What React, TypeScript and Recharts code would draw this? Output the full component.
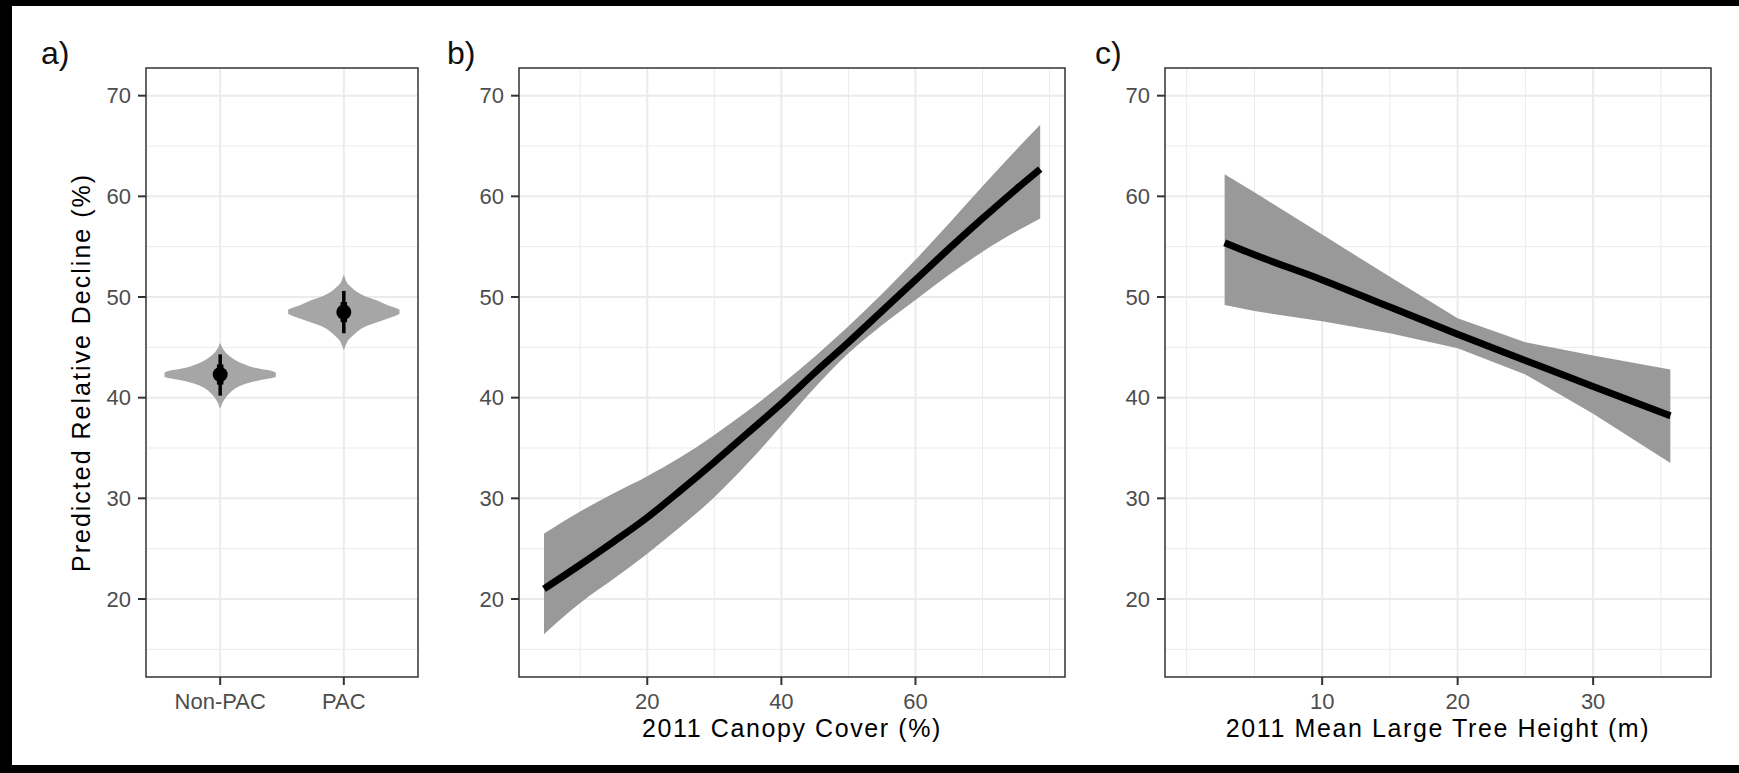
import React from "react";
import {
	Area,
	CartesianGrid,
	ComposedChart,
	ErrorBar,
	Line,
	ReferenceArea,
	Scatter,
	XAxis,
	YAxis,
} from "recharts";

const FONT = '"Liberation Sans", Arial, Helvetica, sans-serif';
const GRID = "#EBEBEB";
const INK = "#333333";
const TICK_TEXT = "#4D4D4D";
const RIBBON = "#999999";
const VIOLIN = "#A6A6A6";

// shared y scale (Predicted Relative Decline, %)
const Y_DOMAIN: [number, number] = [12.25, 72.75];
const Y_TICKS = [20, 30, 40, 50, 60, 70];
const Y_MINOR = [15, 25, 35, 45, 55, 65];

// a) violins: half-width offsets (category units) and outline at each offset
const groups = ["Non-PAC", "PAC"];
const violinDx = [0, 0.015, 0.03, 0.05, 0.08, 0.135, 0.2, 0.27, 0.35, 0.42, 0.45];
const nonPacUpper = [45.4, 45.0, 44.7, 44.4, 44.1, 43.65, 43.3, 43.0, 42.8, 42.65, 42.5];
const nonPacLower = [38.95, 39.4, 39.75, 40.1, 40.5, 41.0, 41.35, 41.6, 41.8, 41.95, 42.05];
const pacUpper = [52.15, 51.7, 51.35, 51.1, 50.75, 50.3, 49.95, 49.65, 49.2, 48.9, 48.75];
const pacLower = [44.75, 45.2, 45.6, 45.9, 46.25, 46.8, 47.2, 47.5, 47.85, 48.15, 48.3];
// point estimates with two interval widths
const groupMeans = [42.3, 48.5];
const outerLow = [40.2, 46.4];
const outerHigh = [44.3, 50.6];
const innerLow = [41.3, 47.5];
const innerHigh = [43.3, 49.5];

// b) canopy cover
const canopyX = [4.6, 10, 15, 20, 25, 30, 35, 40, 45, 50, 55, 60, 65, 70, 75, 78.6];
const canopyFit = [21.0, 23.4, 25.7, 28.1, 30.8, 33.6, 36.5, 39.4, 42.5, 45.5, 48.6, 51.7, 54.8, 57.8, 60.7, 62.7];
const canopyLower = [16.5, 19.6, 22.0, 24.5, 27.2, 30.1, 33.5, 37.2, 41.0, 44.4, 47.2, 49.7, 52.2, 54.5, 56.5, 57.8];
const canopyUpper = [26.5, 28.7, 30.5, 32.2, 34.1, 36.3, 38.7, 41.3, 44.1, 47.1, 50.3, 53.7, 57.3, 61.0, 64.6, 67.1];
const canopyTicks = [20, 40, 60];
const canopyMinor = [10, 30, 50, 70, 80];

// c) mean large tree height
const heightX = [2.8, 5, 10, 15, 20, 25, 30, 35.7];
const heightFit = [55.4, 54.2, 51.7, 49.0, 46.3, 43.7, 41.1, 38.2];
const heightLower = [49.2, 48.6, 47.6, 46.4, 44.9, 42.3, 38.4, 33.5];
const heightUpper = [62.2, 60.4, 56.2, 52.0, 47.9, 45.5, 44.2, 42.8];
const heightTicks = [10, 20, 30];
const heightMinor = [0, 5, 15, 25, 35];

// layout
const PLOT_TOP = 68;
const PLOT_H = 609;
const Y_AXIS_W = 60;
const X_AXIS_H = 50;
const PAD = 4;

function violinRows(center: number, key: string, lower: number[], upper: number[]) {
	const rows: Record<string, unknown>[] = [];
	for (let i = violinDx.length - 1; i > 0; i--) {
		rows.push({ x: center - violinDx[i], [key]: [lower[i], upper[i]] });
	}
	for (let i = 0; i < violinDx.length; i++) {
		rows.push({ x: center + violinDx[i], [key]: [lower[i], upper[i]] });
	}
	return rows;
}

const violinData = [
	...violinRows(1, "nonpac", nonPacLower, nonPacUpper),
	...violinRows(2, "pac", pacLower, pacUpper),
];

const pointData = groupMeans.map((m, i) => ({
	x: i + 1,
	y: m,
	outer: [m - outerLow[i], outerHigh[i] - m],
	inner: [m - innerLow[i], innerHigh[i] - m],
}));

const canopyData = canopyX.map((x, i) => ({
	x,
	fit: canopyFit[i],
	band: [canopyLower[i], canopyUpper[i]],
}));

const heightData = heightX.map((x, i) => ({
	x,
	fit: heightFit[i],
	band: [heightLower[i], heightUpper[i]],
}));

function frame(
	xDomain: [number, number],
	xTicks: number[],
	xMinor: number[],
	fmt?: (v: number) => string,
) {
	const tick = { fill: TICK_TEXT, fontSize: 22 };
	const tickLine = { stroke: INK, strokeWidth: 2 };
	return [
		<CartesianGrid
			key="gmin"
			stroke={GRID}
			strokeWidth={1}
			horizontalValues={Y_MINOR}
			verticalValues={xMinor}
			vertical={xMinor.length > 0}
		/>,
		<CartesianGrid
			key="gmaj"
			stroke={GRID}
			strokeWidth={2}
			horizontalValues={Y_TICKS}
			verticalValues={xTicks}
		/>,
		<XAxis
			key="x"
			type="number"
			dataKey="x"
			domain={xDomain}
			ticks={xTicks}
			allowDataOverflow
			interval={0}
			height={X_AXIS_H}
			axisLine={false}
			tickLine={tickLine}
			tickSize={8}
			tickMargin={8}
			tick={tick}
			tickFormatter={fmt}
		/>,
		<YAxis
			key="y"
			type="number"
			domain={Y_DOMAIN}
			ticks={Y_TICKS}
			allowDataOverflow
			interval={0}
			width={Y_AXIS_W}
			axisLine={false}
			tickLine={tickLine}
			tickSize={8}
			tickMargin={7}
			tick={tick}
		/>,
	];
}

function border(xDomain: [number, number]) {
	return (
		<ReferenceArea
			x1={xDomain[0]}
			x2={xDomain[1]}
			y1={Y_DOMAIN[0]}
			y2={Y_DOMAIN[1]}
			fill="none"
			stroke={INK}
			strokeWidth={1.5}
			ifOverflow="visible"
		/>
	);
}

function box(plotLeft: number) {
	return {
		position: "absolute" as const,
		left: plotLeft - Y_AXIS_W,
		top: PLOT_TOP - PAD,
	};
}

const margin = { top: PAD, right: PAD, bottom: 0, left: 0 };

function Tag({ text, x }: { text: string; x: number }) {
	return (
		<div
			style={{
				position: "absolute",
				left: x,
				top: 37,
				fontSize: 32,
				lineHeight: "32px",
				color: "#111",
				whiteSpace: "nowrap",
			}}
		>
			{text}
		</div>
	);
}

function XTitle({ text, cx }: { text: string; cx: number }) {
	return (
		<div
			style={{
				position: "absolute",
				left: cx - 300,
				width: 600,
				top: 716,
				textAlign: "center",
				fontSize: 25,
				lineHeight: "25px",
				letterSpacing: 1.6,
				color: "#000",
				whiteSpace: "nowrap",
			}}
		>
			{text}
		</div>
	);
}

export default function App() {
	const aDomain: [number, number] = [0.4, 2.6];
	const bDomain: [number, number] = [0.87, 82.3];
	const cDomain: [number, number] = [-1.6, 38.7];
	const aW = 272;
	const bW = 546;
	const cW = 546;

	return (
		<div
			style={{
				position: "absolute",
				left: 0,
				top: 0,
				width: 1739,
				height: 773,
				background: "#000",
				fontFamily: FONT,
				overflow: "hidden",
			}}
		>
			<div
				style={{
					position: "absolute",
					left: 12,
					top: 6,
					width: 1727,
					height: 759,
					background: "#fff",
				}}
			>
				<div style={{ position: "absolute", left: -12, top: -6 }}>
					<Tag text="a)" x={41} />
					<Tag text="b)" x={447} />
					<Tag text="c)" x={1095} />

					<div
						style={{
							position: "absolute",
							left: 81 - 300,
							top: 372.5 - 12.5,
							width: 600,
							textAlign: "center",
							fontSize: 25,
							lineHeight: "25px",
							letterSpacing: 2,
							color: "#000",
							whiteSpace: "nowrap",
							transform: "rotate(-90deg)",
						}}
					>
						Predicted Relative Decline (%)
					</div>

					<div style={box(146)}>
						<ComposedChart
							width={Y_AXIS_W + aW + PAD}
							height={PAD + PLOT_H + X_AXIS_H}
							data={violinData}
							margin={margin}
						>
							{frame(aDomain, [1, 2], [], (v) => groups[Math.round(v) - 1] ?? "")}
							<Area
								dataKey="nonpac"
								type="monotone"
								fill={VIOLIN}
								fillOpacity={1}
								stroke="none"
								isAnimationActive={false}
							/>
							<Area
								dataKey="pac"
								type="monotone"
								fill={VIOLIN}
								fillOpacity={1}
								stroke="none"
								isAnimationActive={false}
							/>
							<Scatter
								data={pointData}
								dataKey="y"
								fill="#000"
								isAnimationActive={false}
								shape={(p: any) => <circle cx={p.cx} cy={p.cy} r={7.5} fill="#000" />}
							>
								<ErrorBar dataKey="outer" direction="y" width={0} stroke="#000" strokeWidth={3.5} isAnimationActive={false} />
								<ErrorBar dataKey="inner" direction="y" width={0} stroke="#000" strokeWidth={6.5} isAnimationActive={false} />
							</Scatter>
							{border(aDomain)}
						</ComposedChart>
					</div>

					<div style={box(519)}>
						<ComposedChart
							width={Y_AXIS_W + bW + PAD}
							height={PAD + PLOT_H + X_AXIS_H}
							data={canopyData}
							margin={margin}
						>
							{frame(bDomain, canopyTicks, canopyMinor)}
							<Area
								dataKey="band"
								type="monotone"
								fill={RIBBON}
								fillOpacity={1}
								stroke="none"
								isAnimationActive={false}
							/>
							<Line
								dataKey="fit"
								type="monotone"
								stroke="#000"
								strokeWidth={7}
								dot={false}
								activeDot={false}
								isAnimationActive={false}
							/>
							{border(bDomain)}
						</ComposedChart>
					</div>
					<XTitle text="2011 Canopy Cover (%)" cx={792} />

					<div style={box(1165)}>
						<ComposedChart
							width={Y_AXIS_W + cW + PAD}
							height={PAD + PLOT_H + X_AXIS_H}
							data={heightData}
							margin={margin}
						>
							{frame(cDomain, heightTicks, heightMinor)}
							<Area
								dataKey="band"
								type="linear"
								fill={RIBBON}
								fillOpacity={1}
								stroke="none"
								isAnimationActive={false}
							/>
							<Line
								dataKey="fit"
								type="monotone"
								stroke="#000"
								strokeWidth={7}
								dot={false}
								activeDot={false}
								isAnimationActive={false}
							/>
							{border(cDomain)}
						</ComposedChart>
					</div>
					<XTitle text="2011 Mean Large Tree Height (m)" cx={1438} />
				</div>
			</div>
		</div>
	);
}
